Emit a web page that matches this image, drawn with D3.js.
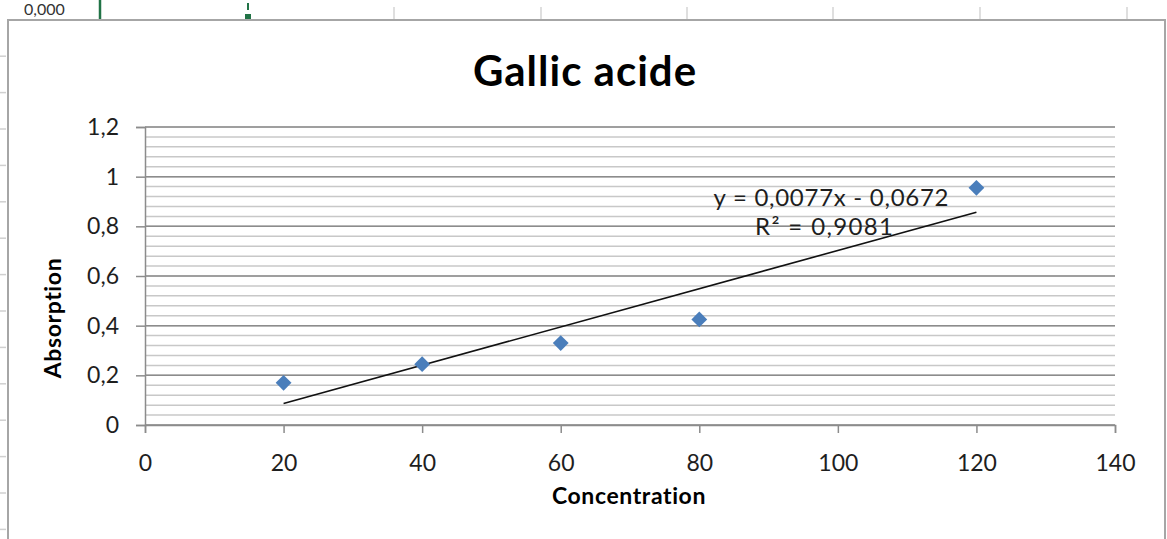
<!DOCTYPE html>
<html>
<head>
<meta charset="utf-8">
<script src="https://cdn.jsdelivr.net/npm/d3@7"></script>
<style>
  html, body { margin: 0; padding: 0; background: #fff; overflow: hidden; }
  text { font-family: Lato, "Open Sans", sans-serif; }
</style>
</head>
<body>
<div class="chart"></div>
<script>
// data
var concentration = [20, 40, 60, 80, 120];
var absorption = [0.17, 0.245, 0.33, 0.425, 0.955];
var trendX = [20, 120];
var trendSlope = 0.0077, trendIntercept = -0.0672;
var xTicks = [0, 20, 40, 60, 80, 100, 120, 140];
var yTicks = [0, 0.2, 0.4, 0.6, 0.8, 1, 1.2];
var yMinor = d3.range(0, 1.2001, 0.04);
var eqLines = ["y = 0,0077x - 0,0672", "R² = 0,9081"];

var W = 1167, H = 539;
var locale = d3.formatLocale({decimal: ",", thousands: ".", grouping: [3], currency: ["", ""]});
var fmt = locale.format("~g");

var svg = d3.select(".chart").append("svg")
    .attr("width", W)
    .attr("height", H);

// spreadsheet behind the chart
var cols = [394, 541, 687, 833, 980, 1127];
svg.selectAll(".col").data(cols).enter().append("line")
    .attr("x1", function(d) { return d; }).attr("x2", function(d) { return d; })
    .attr("y1", 7).attr("y2", 20)
    .attr("stroke", "#d4d4d4").attr("stroke-width", 1.5);
svg.append("text").attr("x", 24).attr("y", 15)
    .style("font-size", "16px").style("fill", "#333").text("0,000");
svg.append("line").attr("x1", 100).attr("x2", 100).attr("y1", 0).attr("y2", 19)
    .attr("stroke", "#217346").attr("stroke-width", 2.5);
svg.append("rect").attr("x", 245).attr("y", 14).attr("width", 6).attr("height", 5).attr("fill", "#217346");
svg.append("rect").attr("x", 247).attr("y", 3).attr("width", 2).attr("height", 7).attr("fill", "#217346");
svg.selectAll(".row").data(d3.range(-2, 12)).enter().append("line")
    .attr("x1", 0).attr("x2", 6)
    .attr("y1", function(d) { return 129 + d * 36.4; })
    .attr("y2", function(d) { return 129 + d * 36.4; })
    .attr("stroke", "#d0d0d0").attr("stroke-width", 1.5);

// chart area border
svg.append("rect")
    .attr("x", 8).attr("y", 20)
    .attr("width", 1157).attr("height", 560)
    .attr("fill", "#fff")
    .attr("stroke", "#a6a6a6").attr("stroke-width", 2);

var x = d3.scaleLinear().domain([0, 140]).range([145, 1115]);
var y = d3.scaleLinear().domain([0, 1.2]).range([425, 127]);

// gridlines
svg.append("g").selectAll("line").data(yMinor).enter().append("line")
    .attr("x1", x(0)).attr("x2", x(140))
    .attr("y1", function(d) { return y(d); }).attr("y2", function(d) { return y(d); })
    .attr("stroke", "#c8c8c8").attr("stroke-width", 1.5);
svg.append("g").selectAll("line").data(yTicks).enter().append("line")
    .attr("x1", x(0)).attr("x2", x(140))
    .attr("y1", function(d) { return y(d); }).attr("y2", function(d) { return y(d); })
    .attr("stroke", "#8c8c8c").attr("stroke-width", 1.5);

// axes
var yAxis = svg.append("g")
    .attr("transform", "translate(" + x(0) + ",0)")
    .call(d3.axisLeft(y).tickValues(yTicks).tickFormat(fmt).tickSize(9).tickPadding(17));
var xAxis = svg.append("g")
    .attr("transform", "translate(0," + y(0) + ")")
    .call(d3.axisBottom(x).tickValues(xTicks).tickSize(8).tickPadding(22));
[yAxis, xAxis].forEach(function(a) {
  a.select(".domain").attr("stroke", "#8c8c8c").attr("stroke-width", 1.5);
  a.selectAll(".tick line").attr("stroke", "#8c8c8c").attr("stroke-width", 1.5);
  a.selectAll("text").style("font-size", "23px").style("fill", "#1e1e1e")
    .style("font-family", "Lato, 'Open Sans', sans-serif");
});

// trend line
var line = d3.line()
    .x(function(d) { return x(d); })
    .y(function(d) { return y(trendSlope * d + trendIntercept); });
svg.append("path").datum(trendX)
    .attr("d", line)
    .attr("fill", "none").attr("stroke", "#111").attr("stroke-width", 1.6);

// markers
svg.selectAll(".pt").data(concentration).enter().append("path")
    .attr("d", d3.symbol().type(d3.symbolSquare).size(125))
    .attr("transform", function(d, i) {
      return "translate(" + x(d) + "," + y(absorption[i]) + ") rotate(45)";
    })
    .attr("fill", "#4a7ebb");

// equation label
svg.selectAll(".eq").data(eqLines).enter().append("text")
    .attr("x", function(d, i) { return i ? 824 : 831; })
    .attr("y", function(d, i) { return 206 + i * 29; })
    .attr("text-anchor", "middle")
    .attr("textLength", function(d, i) { return i ? 138 : 235; })
    .attr("lengthAdjust", "spacing")
    .style("font-size", "24px").style("fill", "#1e1e1e")
    .text(function(d) { return d; });

// titles
svg.append("text").attr("x", 585).attr("y", 86).attr("text-anchor", "middle")
    .style("font-size", "42px").style("font-weight", "bold").style("letter-spacing", "1px")
    .text("Gallic acide");
svg.append("text").attr("x", 629).attr("y", 504).attr("text-anchor", "middle")
    .style("font-size", "23px").style("font-weight", "bold").style("letter-spacing", "0.6px")
    .text("Concentration");
svg.append("text").attr("transform", "translate(61,318) rotate(-90)").attr("text-anchor", "middle")
    .style("font-size", "23px").style("font-weight", "bold").style("letter-spacing", "0.6px")
    .text("Absorption");
</script>
</body>
</html>
